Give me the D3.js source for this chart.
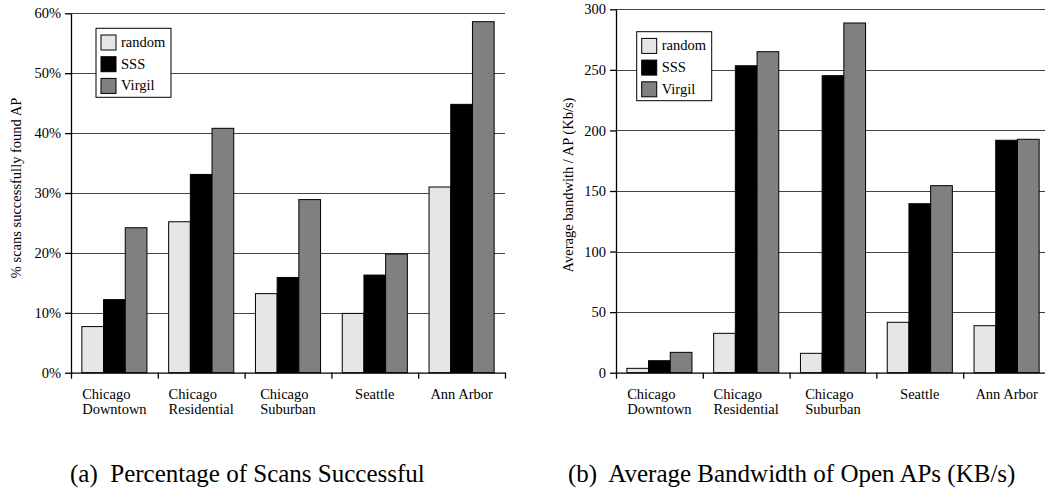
<!DOCTYPE html>
<html lang="en">
<head>
    <meta charset="utf-8">
    <title>Scan success and open AP bandwidth</title>
    <script src="https://d3js.org/d3.v7.min.js"></script>
    <style>
        body {
            margin: 0;
            background: white;
        }

        svg text {
            font-family: 'Liberation Serif', 'Times New Roman', serif;
            fill: #000;
        }

        .grid line {
            stroke: #444;
            stroke-width: 1;
        }

        .axis path,
        .axis line {
            stroke: #000;
            stroke-width: 1.3;
        }

        .caption {
            font-size: 25px;
            white-space: pre;
        }
    </style>
</head>
<body>
    <div id="chart"></div>

    <script>
        // categories (two text lines each) and series names
        const categories = [
            ["Chicago", "Downtown"],
            ["Chicago", "Residential"],
            ["Chicago", "Suburban"],
            ["Seattle"],
            ["Ann Arbor"]
        ];
        const seriesNames = ["random", "SSS", "Virgil"];
        const seriesColors = ["#e6e6e6", "#000000", "#808080"];

        // (a) % scans that successfully found an AP
        const scanRandom = [7.7, 25.2, 13.2, 9.9, 31.0];
        const scanSSS = [12.2, 33.1, 15.9, 16.3, 44.8];
        const scanVirgil = [24.2, 40.8, 28.9, 19.8, 58.6];
        const scanTicks = [0, 10, 20, 30, 40, 50, 60];

        // (b) average bandwidth per AP (Kb/s)
        const bwRandom = [3.6, 32.5, 16.0, 41.6, 38.8];
        const bwSSS = [9.9, 253.4, 245.2, 139.5, 191.9];
        const bwVirgil = [16.8, 265.0, 288.7, 154.4, 192.7];
        const bwTicks = [0, 50, 100, 150, 200, 250, 300];

        const W = 1045, H = 492;

        const svg = d3.select("#chart")
            .append("svg")
            .attr("width", W)
            .attr("height", H);

        function drawChart(cfg) {
            const g = svg.append("g");

            const y = d3.scaleLinear()
                .domain([0, cfg.ticks[cfg.ticks.length - 1]])
                .range([cfg.bottom, cfg.top]);

            const x = d3.scaleBand()
                .domain(d3.range(categories.length))
                .range([cfg.left, cfg.right])
                .padding(0);

            const xs = d3.scaleBand()
                .domain(seriesNames)
                .range([0, x.bandwidth()])
                .paddingInner(0)
                .paddingOuter(0.5);

            // grid lines
            g.append("g")
                .attr("class", "grid")
                .selectAll("line")
                .data(cfg.ticks.slice(1))
                .enter()
                .append("line")
                .attr("x1", cfg.left)
                .attr("x2", cfg.right)
                .attr("y1", d => Math.round(y(d)) + 0.5)
                .attr("y2", d => Math.round(y(d)) + 0.5);

            // legend box sits over the grid
            const legend = g.append("g")
                .attr("transform", `translate(${cfg.legendX},${cfg.legendY})`);

            legend.append("rect")
                .attr("width", 75)
                .attr("height", 69)
                .attr("fill", "white")
                .attr("stroke", "#000")
                .attr("stroke-width", 1);

            const items = legend.selectAll(".item")
                .data(seriesNames)
                .enter()
                .append("g")
                .attr("transform", (d, i) => `translate(5,${6.7 + i * 21.7})`);

            items.append("rect")
                .attr("width", 15)
                .attr("height", 15)
                .attr("fill", (d, i) => seriesColors[i])
                .attr("stroke", "#000")
                .attr("stroke-width", 1);

            items.append("text")
                .attr("x", 20)
                .attr("y", 12)
                .style("font-size", "14.5px")
                .text(d => d);

            // bars
            const groups = g.selectAll(".cat")
                .data(categories.map((c, i) => i))
                .enter()
                .append("g")
                .attr("transform", i => `translate(${x(i)},0)`);

            groups.selectAll("rect")
                .data(i => seriesNames.map((s, k) => ({s: s, k: k, v: cfg.series[k][i]})))
                .enter()
                .append("rect")
                .attr("x", d => xs(d.s))
                .attr("y", d => y(d.v))
                .attr("width", xs.bandwidth())
                .attr("height", d => y(0) - y(d.v))
                .attr("fill", d => seriesColors[d.k])
                .attr("stroke", "#000")
                .attr("stroke-width", 1);

            // y axis
            g.append("g")
                .attr("class", "axis")
                .attr("transform", `translate(${cfg.left},0)`)
                .call(d3.axisLeft(y)
                    .tickValues(cfg.ticks)
                    .tickSize(6)
                    .tickSizeOuter(0)
                    .tickPadding(4)
                    .tickFormat(cfg.format))
                .selectAll("text")
                .style("font-size", "14.5px");

            // x axis: ticks at category boundaries
            const xb = d3.scaleLinear()
                .domain([0, categories.length])
                .range([cfg.left, cfg.right]);

            g.append("g")
                .attr("class", "axis")
                .attr("transform", `translate(0,${cfg.bottom})`)
                .call(d3.axisBottom(xb)
                    .tickValues(d3.range(categories.length + 1))
                    .tickSize(6)
                    .tickSizeOuter(0)
                    .tickFormat(""));

            // category labels: block centered, lines left aligned
            categories.forEach((lines, i) => {
                const t = g.append("text")
                    .style("font-size", "14.5px");
                lines.forEach((ln, j) => {
                    t.append("tspan")
                        .attr("y", 398.5 + j * 15.3)
                        .text(ln);
                });
                const widths = [];
                t.selectAll("tspan").each(function() {
                    widths.push(this.getComputedTextLength());
                });
                const left = x(i) + x.bandwidth() / 2 - d3.max(widths) / 2;
                t.selectAll("tspan").attr("x", left);
            });

            // y axis title
            g.append("text")
                .attr("transform", `translate(${cfg.titleX},${cfg.titleY}) rotate(-90)`)
                .attr("text-anchor", "middle")
                .style("font-size", "14.5px")
                .text(cfg.title);

            // caption
            g.append("text")
                .attr("class", "caption")
                .attr("x", cfg.captionX)
                .attr("y", 482)
                .text(cfg.caption);
        }

        drawChart({
            left: 71, right: 505, top: 13.3, bottom: 372.7,
            ticks: scanTicks,
            format: d => d + "%",
            series: [scanRandom, scanSSS, scanVirgil],
            legendX: 96, legendY: 28.3,
            title: "% scans successfully found AP",
            titleX: 21, titleY: 188,
            caption: "(a)  Percentage of Scans Successful",
            captionX: 70
        });

        drawChart({
            left: 616, right: 1050, top: 9.3, bottom: 372.7,
            ticks: bwTicks,
            format: d => d,
            series: [bwRandom, bwSSS, bwVirgil],
            legendX: 636.7, legendY: 31.7,
            title: "Average bandwith / AP (Kb/s)",
            titleX: 573, titleY: 185,
            caption: "(b)  Average Bandwidth of Open APs (KB/s)",
            captionX: 568
        });
    </script>
</body>
</html>
